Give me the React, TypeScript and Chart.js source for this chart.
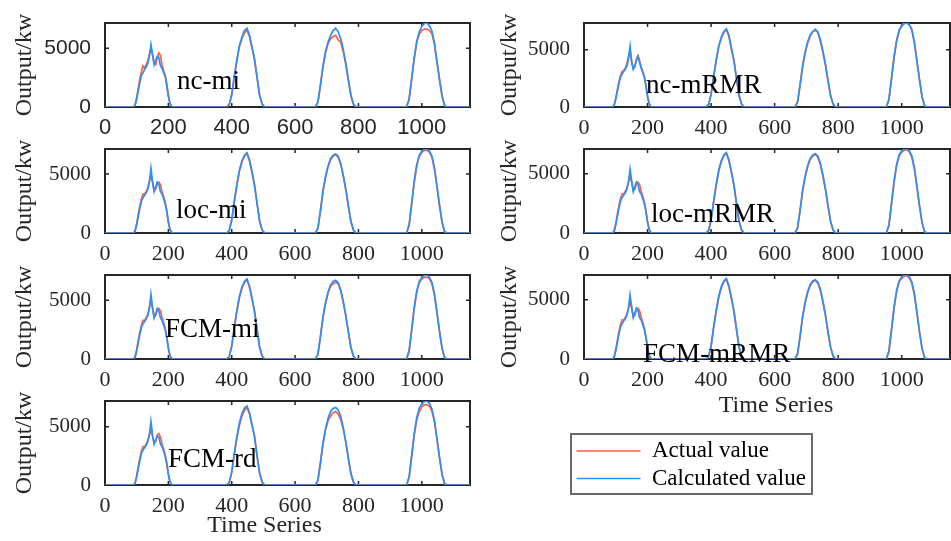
import React, { useEffect, useRef } from 'react';
import { Chart, registerables } from 'chart.js';

Chart.register(...registerables);

// ---------------- data ----------------
const timeSeries = [
  0,
  90, 95, 100, 105, 110, 115, 120, 125, 130, 135, 140, 145, 150, 155, 160, 165, 170, 175, 180, 185, 190, 195, 200, 205, 210, 215,
  384, 392, 400, 408, 416, 424, 432, 440, 448, 456, 464, 472, 480, 488, 496, 504,
  664, 672, 680, 688, 696, 704, 712, 720, 728, 736, 744, 752, 760, 768, 776, 784, 792,
  952, 960, 968, 976, 984, 992, 1000, 1008, 1016, 1024, 1032, 1040, 1048, 1056, 1064, 1072, 1080,
  1152,
];

const ncMiActual = [0,
  0, 200, 800, 1600, 2400, 3000, 3500, 3300, 3600, 3900, 4500, 5000, 4400, 3700, 3600, 4200, 4600, 4400, 3600, 3100, 2700, 2000, 1000, 300, 50, 0,
  0, 200, 1000, 2500, 3900, 5100, 5800, 6300, 6500, 6000, 5000, 4100, 2500, 1000, 250, 0,
  0, 400, 1800, 3400, 4600, 5400, 5800, 6000, 6100, 5700, 5500, 4700, 3600, 2300, 1000, 250, 0,
  0, 700, 2400, 4100, 5500, 6200, 6500, 6620, 6630, 6500, 6200, 5300, 3800, 2300, 900, 100, 0,
  0];
const ncMiCalc = [0,
  0, 150, 700, 1400, 2100, 2700, 2900, 3200, 3400, 3700, 4300, 5300, 4500, 3600, 4000, 4300, 4200, 3500, 3300, 2900, 2600, 1800, 900, 300, 50, 0,
  0, 200, 1100, 2600, 4000, 5200, 5900, 6500, 6700, 6100, 5100, 4000, 2500, 1000, 250, 0,
  0, 400, 1900, 3500, 4700, 5500, 6100, 6500, 6700, 6400, 5800, 4900, 3700, 2300, 1000, 250, 0,
  0, 700, 2400, 4200, 5600, 6400, 6850, 7100, 7140, 6900, 6450, 5400, 3800, 2300, 900, 100, 0,
  0];

const ncMrmrActual = [0,
  0, 200, 800, 1500, 2200, 2800, 3100, 3200, 3400, 3800, 4400, 4900, 4000, 3400, 3500, 4200, 4500, 4100, 3500, 3100, 2700, 1900, 950, 300, 50, 0,
  0, 200, 1100, 2600, 4000, 5300, 6000, 6500, 6800, 6200, 5000, 4100, 2500, 1000, 250, 0,
  0, 400, 1900, 3500, 4700, 5600, 6200, 6600, 6700, 6600, 5700, 4800, 3700, 2300, 1000, 250, 0,
  0, 700, 2500, 4300, 5800, 6700, 7100, 7350, 7340, 7200, 6800, 5700, 4000, 2400, 900, 100, 0,
  0];
const ncMrmrCalc = [0,
  0, 150, 700, 1400, 2100, 2600, 2900, 3100, 3300, 3600, 4200, 5300, 3900, 3300, 3600, 4100, 4400, 3900, 3400, 3000, 2600, 1800, 900, 300, 50, 0,
  0, 200, 1100, 2700, 4100, 5300, 6100, 6600, 6830, 6300, 5200, 4000, 2500, 1000, 250, 0,
  0, 400, 1900, 3600, 4800, 5700, 6300, 6600, 6800, 6500, 5900, 4900, 3700, 2300, 1000, 250, 0,
  0, 700, 2500, 4400, 5800, 6700, 7100, 7300, 7350, 7200, 6700, 5600, 4000, 2400, 900, 100, 0,
  0];

const locMiActual = [0,
  0, 200, 800, 1600, 2300, 2900, 3300, 3300, 3500, 3800, 4400, 4900, 4300, 3600, 3700, 4200, 4300, 4100, 3500, 3100, 2600, 1900, 950, 300, 50, 0,
  0, 200, 1100, 2600, 4000, 5200, 6000, 6500, 6750, 6100, 5100, 4100, 2500, 1000, 250, 0,
  0, 400, 1900, 3500, 4700, 5600, 6200, 6500, 6650, 6400, 5800, 4800, 3700, 2300, 1000, 250, 0,
  0, 700, 2500, 4300, 5700, 6500, 6850, 7000, 7000, 6850, 6400, 5400, 3900, 2300, 900, 100, 0,
  0];
const locMiCalc = [0,
  0, 150, 700, 1400, 2100, 2700, 3000, 3200, 3400, 3700, 4300, 5500, 4400, 3500, 3900, 4300, 4100, 3500, 3300, 2900, 2500, 1800, 900, 300, 50, 0,
  0, 200, 1100, 2700, 4100, 5300, 6100, 6600, 6800, 6200, 5200, 4000, 2500, 1000, 250, 0,
  0, 400, 1900, 3600, 4800, 5700, 6300, 6600, 6700, 6500, 5900, 4900, 3700, 2300, 1000, 250, 0,
  0, 700, 2500, 4400, 5800, 6600, 6950, 7100, 7120, 6950, 6500, 5500, 3900, 2300, 900, 100, 0,
  0];

const locMrmrActual = [0,
  0, 200, 800, 1600, 2300, 2900, 3300, 3300, 3500, 3800, 4300, 4800, 4300, 3600, 3700, 4200, 4300, 4100, 3500, 3100, 2600, 1900, 950, 300, 50, 0,
  0, 200, 1100, 2600, 4000, 5200, 6000, 6500, 6750, 6100, 5100, 4100, 2500, 1000, 250, 0,
  0, 400, 1900, 3500, 4700, 5600, 6200, 6500, 6650, 6400, 5800, 4800, 3700, 2300, 1000, 250, 0,
  0, 700, 2500, 4300, 5700, 6500, 6850, 7000, 7050, 6850, 6400, 5400, 3900, 2300, 900, 100, 0,
  0];
const locMrmrCalc = [0,
  0, 150, 700, 1400, 2100, 2700, 3000, 3200, 3400, 3700, 4300, 5400, 4400, 3500, 3900, 4300, 4100, 3500, 3300, 2900, 2500, 1800, 900, 300, 50, 0,
  0, 200, 1100, 2700, 4100, 5300, 6100, 6600, 6800, 6200, 5200, 4000, 2500, 1000, 250, 0,
  0, 400, 1900, 3600, 4800, 5700, 6300, 6600, 6700, 6500, 5900, 4900, 3700, 2300, 1000, 250, 0,
  0, 700, 2500, 4400, 5800, 6600, 6950, 7100, 7100, 6950, 6500, 5500, 3900, 2300, 900, 100, 0,
  0];

const fcmMiActual = [0,
  0, 200, 800, 1600, 2300, 2900, 3300, 3300, 3500, 3800, 4400, 4900, 4300, 3600, 3700, 4200, 4300, 4100, 3500, 3100, 2600, 1900, 950, 300, 50, 0,
  0, 200, 1100, 2600, 4000, 5200, 6000, 6500, 6750, 6100, 5100, 4100, 2500, 1000, 250, 0,
  0, 400, 1900, 3500, 4700, 5600, 6200, 6400, 6550, 6400, 5800, 4800, 3700, 2300, 1000, 250, 0,
  0, 700, 2500, 4300, 5700, 6500, 6800, 6950, 6950, 6850, 6400, 5400, 3900, 2300, 900, 100, 0,
  0];
const fcmMiCalc = [0,
  0, 150, 700, 1400, 2100, 2700, 3000, 3200, 3400, 3700, 4300, 5500, 4400, 3500, 3900, 4300, 4100, 3500, 3300, 2900, 2500, 1800, 900, 300, 50, 0,
  0, 200, 1100, 2700, 4100, 5300, 6100, 6600, 6800, 6200, 5200, 4000, 2500, 1000, 250, 0,
  0, 400, 1900, 3600, 4800, 5700, 6300, 6600, 6700, 6500, 5900, 4900, 3700, 2300, 1000, 250, 0,
  0, 700, 2500, 4400, 5800, 6600, 6950, 7100, 7150, 6950, 6500, 5500, 3900, 2300, 900, 100, 0,
  0];

const fcmMrmrActual = [0,
  0, 200, 800, 1600, 2300, 2900, 3300, 3300, 3500, 3800, 4300, 4800, 4300, 3600, 3700, 4200, 4300, 4100, 3500, 3100, 2600, 1900, 950, 300, 50, 0,
  0, 200, 1100, 2600, 4000, 5200, 6000, 6500, 6750, 6100, 5100, 4100, 2500, 1000, 250, 0,
  0, 400, 1900, 3500, 4700, 5600, 6200, 6500, 6650, 6400, 5800, 4800, 3700, 2300, 1000, 250, 0,
  0, 700, 2500, 4300, 5700, 6500, 6850, 7000, 7050, 6850, 6400, 5400, 3900, 2300, 900, 100, 0,
  0];
const fcmMrmrCalc = [0,
  0, 150, 700, 1400, 2100, 2700, 3000, 3200, 3400, 3700, 4300, 5400, 4400, 3500, 3900, 4300, 4100, 3500, 3300, 2900, 2500, 1800, 900, 300, 50, 0,
  0, 200, 1100, 2700, 4100, 5300, 6100, 6600, 6800, 6200, 5200, 4000, 2500, 1000, 250, 0,
  0, 400, 1900, 3600, 4800, 5700, 6300, 6600, 6700, 6500, 5900, 4900, 3700, 2300, 1000, 250, 0,
  0, 700, 2500, 4400, 5800, 6600, 6950, 7100, 7100, 6950, 6500, 5500, 3900, 2300, 900, 100, 0,
  0];

const fcmRdActual = [0,
  0, 200, 800, 1600, 2300, 2900, 3300, 3300, 3500, 3800, 4300, 4700, 4200, 3600, 3700, 4300, 4400, 4100, 3500, 3100, 2600, 1900, 950, 300, 50, 0,
  0, 200, 1100, 2600, 4000, 5100, 5900, 6400, 6650, 6100, 5100, 4200, 2500, 1000, 250, 0,
  0, 400, 1900, 3500, 4700, 5500, 5900, 6200, 6300, 6100, 5600, 4800, 3700, 2300, 1000, 250, 0,
  0, 700, 2500, 4300, 5600, 6300, 6700, 6880, 6900, 6750, 6300, 5400, 3900, 2300, 900, 100, 0,
  0];
const fcmRdCalc = [0,
  0, 150, 700, 1400, 2100, 2700, 3000, 3200, 3400, 3700, 4300, 5450, 4300, 3500, 3900, 4200, 4100, 3500, 3300, 2900, 2500, 1800, 900, 300, 50, 0,
  0, 200, 1100, 2700, 4100, 5300, 6100, 6600, 6780, 6200, 5200, 4100, 2500, 1000, 250, 0,
  0, 400, 1900, 3600, 4800, 5700, 6300, 6550, 6640, 6450, 5900, 4900, 3700, 2300, 1000, 250, 0,
  0, 700, 2500, 4400, 5800, 6600, 6950, 7150, 7200, 7000, 6500, 5500, 3900, 2300, 900, 100, 0,
  0];

const panelNames = ['nc-mi', 'nc-mRMR', 'loc-mi', 'loc-mRMR', 'FCM-mi', 'FCM-mRMR', 'FCM-rd'];
const actualSeries = [ncMiActual, ncMrmrActual, locMiActual, locMrmrActual, fcmMiActual, fcmMrmrActual, fcmRdActual];
const calculatedSeries = [ncMiCalc, ncMrmrCalc, locMiCalc, locMrmrCalc, fcmMiCalc, fcmMrmrCalc, fcmRdCalc];
// where each panel's name text sits, in data units (time, kW)
const nameAt = [[227, 2100], [195, 1830], [224, 1870], [211, 1530], [189, 2460], [186, 340], [199, 2140]];
const xTicks = [0, 200, 400, 600, 800, 1000];
const yTicks = [0, 5000];
const xMax = 1152;
const legendLabels = ['Actual value', 'Calculated value'];
const yTitle = 'Output/kw';
const xTitle = 'Time Series';

// ---------------- style / layout ----------------
const RED = '#ff5f45';
const BLUE = '#2d8ff2';
const AXIS = '#262626';
const LINE_W = 1.7;
const SERIF = '"Liberation Serif", "Times New Roman", serif';
const SANS = '"Liberation Sans", Arial, sans-serif';

const COLS = [
  { canvasLeft: 0, axesLeft: 105, axesRight: 470, canvasRight: 476 },
  { canvasLeft: 485, axesLeft: 584, axesRight: 950, canvasRight: 951 },
];
const ROW_TOP = [23, 149, 275, 401];
const AXES_H = 84;
const TOP_PAD = 34;
const X_BOX = 60;
// x-title placement for the panels that show it: [dx from centre, dy below axis]
const xTitlePlace: Record<number, [number, number]> = { 5: [9, 47], 6: [-23, 41] };

const framePlugin = {
  id: 'frame',
  beforeDatasetsDraw(chart: any) {
    const { ctx, chartArea: a, scales } = chart;
    const xs = scales.x, ys = scales.y;
    ctx.save();
    ctx.strokeStyle = AXIS;
    ctx.lineWidth = 2;
    ctx.strokeRect(a.left, a.top, a.right - a.left, a.bottom - a.top);
    ctx.lineWidth = 1.5;
    ctx.beginPath();
    for (const t of xs.ticks) {
      const px = xs.getPixelForValue(t.value);
      ctx.moveTo(px, a.bottom); ctx.lineTo(px, a.bottom - 4);
      ctx.moveTo(px, a.top); ctx.lineTo(px, a.top + 4);
    }
    for (const t of ys.ticks) {
      const py = ys.getPixelForValue(t.value);
      ctx.moveTo(a.left, py); ctx.lineTo(a.left + 4, py);
      ctx.moveTo(a.right, py); ctx.lineTo(a.right - 4, py);
    }
    ctx.stroke();
    ctx.restore();
  },
  afterDatasetsDraw(chart: any, _args: any, opts: any) {
    const { ctx, chartArea: a, scales } = chart;
    ctx.save();
    ctx.fillStyle = '#000';
    ctx.font = `27px ${SERIF}`;
    ctx.textBaseline = 'middle';
    ctx.textAlign = 'left';
    ctx.fillText(opts.name, scales.x.getPixelForValue(opts.at[0]), scales.y.getPixelForValue(opts.at[1]));
    if (opts.xTitle) {
      ctx.fillStyle = AXIS;
      ctx.font = `24px ${SERIF}`;
      ctx.textAlign = 'center';
      ctx.fillText(opts.xTitle.text, (a.left + a.right) / 2 + opts.xTitle.dx, a.bottom + opts.xTitle.dy);
    }
    ctx.restore();
  },
};

const plainNumber = (v: any) => String(v);

function Panel({ index }: { index: number }) {
  const ref = useRef<HTMLCanvasElement>(null);
  const col = COLS[index % 2];
  const rowTop = ROW_TOP[Math.floor(index / 2)];
  const canvasTop = rowTop - TOP_PAD;
  const width = col.canvasRight - col.canvasLeft;
  const height = TOP_PAD + AXES_H + X_BOX;

  useEffect(() => {
    const actual = actualSeries[index];
    const calc = calculatedSeries[index];
    const yMax = Math.max(...actual, ...calc);
    const tickFamily = index === 0 ? SANS : SERIF;
    const place = xTitlePlace[index];
    const chart = new Chart(ref.current!, {
      type: 'line',
      data: {
        datasets: [
          {
            label: legendLabels[1],
            data: timeSeries.map((t, i) => ({ x: t, y: calc[i] })),
            borderColor: BLUE, borderWidth: LINE_W, pointRadius: 0, tension: 0, fill: false,
          },
          {
            label: legendLabels[0],
            data: timeSeries.map((t, i) => ({ x: t, y: actual[i] })),
            borderColor: RED, borderWidth: LINE_W, pointRadius: 0, tension: 0, fill: false,
          },
        ],
      },
      options: {
        animation: false,
        responsive: false,
        devicePixelRatio: 1,
        layout: { padding: { left: 0, top: TOP_PAD, right: col.canvasRight - col.axesRight, bottom: 0 } },
        plugins: {
          legend: { display: false },
          tooltip: { enabled: false },
          frame: { name: panelNames[index], at: nameAt[index], xTitle: place ? { text: xTitle, dx: place[0], dy: place[1] } : null },
        } as any,
        scales: {
          x: {
            type: 'linear', min: 0, max: xMax,
            grid: { display: false, drawTicks: false },
            border: { display: false },
            afterBuildTicks: (s: any) => { s.ticks = xTicks.map((v) => ({ value: v })); },
            afterFit: (s: any) => { s.height = X_BOX; },
            ticks: { color: AXIS, padding: 8, maxRotation: 0, autoSkip: false, callback: plainNumber, font: { family: tickFamily, size: 22 } },
          },
          y: {
            type: 'linear', min: 0, max: yMax,
            grid: { display: false, drawTicks: false },
            border: { display: false },
            afterBuildTicks: (s: any) => { s.ticks = yTicks.map((v) => ({ value: v })); },
            afterFit: (s: any) => { s.width = col.axesLeft - col.canvasLeft; },
            ticks: { color: AXIS, padding: 14, callback: plainNumber, font: { family: tickFamily, size: 21 } },
            title: { display: true, text: yTitle, color: AXIS, padding: { top: 10.6, bottom: 0 }, font: { family: SERIF, size: 24 } },
          },
        },
      },
      plugins: [framePlugin as any],
    });
    return () => chart.destroy();
  }, [index]);

  return (
    <canvas
      ref={ref}
      width={width}
      height={height}
      style={{ position: 'absolute', left: col.canvasLeft, top: canvasTop, width, height }}
    />
  );
}

function Legend() {
  const ref = useRef<HTMLCanvasElement>(null);
  useEffect(() => {
    const chart = new Chart(ref.current!, {
      type: 'line',
      data: {
        datasets: [
          { label: legendLabels[0], data: [], borderColor: RED, backgroundColor: 'transparent', borderWidth: LINE_W },
          { label: legendLabels[1], data: [], borderColor: BLUE, backgroundColor: 'transparent', borderWidth: LINE_W },
        ],
      },
      options: {
        animation: false,
        responsive: false,
        devicePixelRatio: 1,
        layout: { padding: 0 },
        scales: { x: { display: false }, y: { display: false } },
        plugins: {
          tooltip: { enabled: false },
          legend: {
            position: 'top',
            align: 'start',
            maxHeight: 58,
            labels: {
              color: '#000',
              boxWidth: 64,
              boxHeight: 0,
              padding: 4.5,
              font: { family: SERIF, size: 23 },
            },
          } as any,
        },
      },
    });
    return () => chart.destroy();
  }, []);
  return (
    <div style={{ position: 'absolute', left: 570, top: 433, width: 239, height: 58, border: '2px solid #6a6a6a', background: '#fff' }}>
      <canvas ref={ref} width={239} height={58} style={{ display: 'block', width: 239, height: 58 }} />
    </div>
  );
}

export default function App() {
  return (
    <div style={{ position: 'absolute', left: 0, top: 0, width: 951, height: 541, background: '#fff', overflow: 'hidden' }}>
      {panelNames.map((_, i) => (
        <Panel key={i} index={i} />
      ))}
      <Legend />
    </div>
  );
}
